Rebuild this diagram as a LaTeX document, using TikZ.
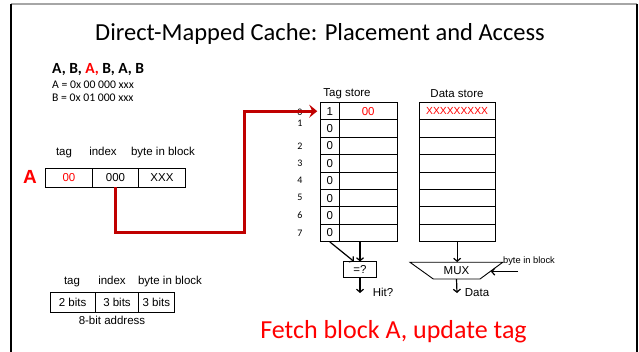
\documentclass[tikz,border=0pt]{standalone}
\usepackage{fontspec}
\setmainfont{Liberation Sans}
\newfontfamily\calibri{Carlito}
\usetikzlibrary{arrows.meta}

\begin{document}
\begin{tikzpicture}[x=1pt,y=-1pt,
  cell/.style={draw,line width=0.9pt,inner sep=0pt,minimum height=17.375pt,font=\fontsize{11.5}{13}\selectfont},
  lbl/.style={anchor=base,inner sep=0pt,font=\fontsize{11.5}{13}\selectfont},
  wire/.style={line width=1.2pt,-{Straight Barb[length=3pt,width=7pt]}},
  redwire/.style={line width=3pt,draw={rgb,255:red,192;green,0;blue,0},-{Stealth[length=8pt,width=13pt,inset=3pt]}}]
\useasboundingbox (0,0) rectangle (639,352);
% frame
\draw[line width=2pt,gray!70] (11,4) -- (637,4);
\draw[line width=2pt] (11,4) -- (11,352);
\draw[line width=2pt] (637,4) -- (637,352);

\path (320,34) node[inner sep=0pt,font=\calibri\fontsize{24.5}{28}\selectfont] (title) {Direct-Mapped Cache: Placement and Access};

% access sequence
\path (52,73.3) node[anchor=base west,inner sep=0pt,font=\calibri\bfseries\fontsize{15.5}{18}\selectfont] (seq) {A, B, \textcolor{red}{A,} B, A, B};
\path (52,88.3) node[anchor=base west,inner sep=0pt,font=\calibri\fontsize{11.7}{13}\selectfont] (addrA) {A = 0x 00 000 xxx};
\path (52,101.3) node[anchor=base west,inner sep=0pt,font=\calibri\fontsize{11.7}{13}\selectfont] (addrB) {B = 0x 01 000 xxx};

% address of A
\path (64,156) node[lbl] (ltag) {tag};
\path (103,156) node[lbl] (lidx) {index};
\path (163,156) node[lbl] (loff) {byte in block};
\path (69,177.5) node[cell,minimum width=46.5pt,minimum height=19pt] (atag) {\textcolor{red}{00}};
\path (115.5,177.5) node[cell,minimum width=46.5pt,minimum height=19pt] (aidx) {000};
\path (162,177.5) node[cell,minimum width=46.5pt,minimum height=19pt] (aoff) {XXX};
\path (30,177) node[inner sep=0pt,text=red,font=\bfseries\fontsize{19}{22}\selectfont] (nameA) {A};

% tag store and data store
\path (347,96.7) node[lbl] (tslbl) {Tag store};
\path (457,97.3) node[lbl] (dslbl) {Data store};
\foreach \i/\yl in {0/112,1/123,2/146,3/163,4/180,5/197,6/215,7/233} {
  \pgfmathsetmacro\yy{102.5+17.375*(\i+0.5)}
  \path (300,\yl) node[inner sep=0pt,font=\calibri\fontsize{10}{12}\selectfont] (r\i) {\i};
  \path (329.85,\yy) node[cell,minimum width=18.3pt] (v\i) {\ifnum\i=0 1\else 0\fi};
  \path (368.15,\yy) node[cell,minimum width=58.3pt,text=red] (t\i) {\ifnum\i=0 00\fi};
  \path (457.15,\yy) node[cell,minimum width=76.3pt,text=red,font=\fontsize{10.3}{12}\selectfont] (d\i) {\ifnum\i=0 XXXXXXXXX\fi};
}

% index selects the set
\coordinate (turn) at (244,233);
\draw[redwire] (aidx.south) |- (turn) |- ([xshift=-3pt]v0.west);

% tag compare
\path (360,269.6) node[cell,minimum width=32.7pt,minimum height=15.3pt] (eq) {=?};
\draw[wire] (t7.south -| eq.north) -- (eq.north);
\draw[wire] (v7.south) -- ([xshift=-6pt]eq.north);
\coordinate (hit) at (360,293);
\draw[wire] (eq.south) -- (hit);
\path (383,296.7) node[lbl] (hitlbl) {Hit?};

% mux
\draw[line width=0.9pt] (410,262.3) -- (502.7,262.3) -- (480,279) -- (433.3,279) -- cycle;
\path (456.5,270.6) node[inner sep=0pt,minimum height=16.7pt,font=\fontsize{11.5}{13}\selectfont] (mux) {MUX};
\draw[wire] (d7.south) -- (d7.south |- mux.north);
\coordinate (dataout) at (457,293);
\draw[wire] (mux.south) -- (dataout);
\path (477,296.7) node[lbl] (datalbl) {Data};
\path (529,263.3) node[anchor=base,inner sep=0pt,font=\fontsize{9.3}{11}\selectfont] (bib) {byte in block};
\coordinate (bibin) at (518,271.7);
\coordinate (muxr) at (491,271.7);
\draw[wire] (bibin) -- (muxr);

% address format
\path (72,285) node[lbl] (ftag) {tag};
\path (112,285) node[lbl] (fidx) {index};
\path (170,285) node[lbl] (foff) {byte in block};
\path (72.65,302.3) node[cell,minimum width=45.3pt,minimum height=20pt] (btag) {2 bits};
\path (117,302.3) node[cell,minimum width=43.4pt,minimum height=20pt] (bidx) {3 bits};
\path (156.35,302.3) node[cell,minimum width=35.3pt,minimum height=20pt] (boff) {3 bits};
\path (112,324) node[lbl] (fmtlbl) {8-bit address};

\path (393.5,338.3) node[anchor=base,inner sep=0pt,text=red,font=\calibri\fontsize{26}{30}\selectfont] (note) {Fetch block A, update tag};
\end{tikzpicture}
\end{document}
